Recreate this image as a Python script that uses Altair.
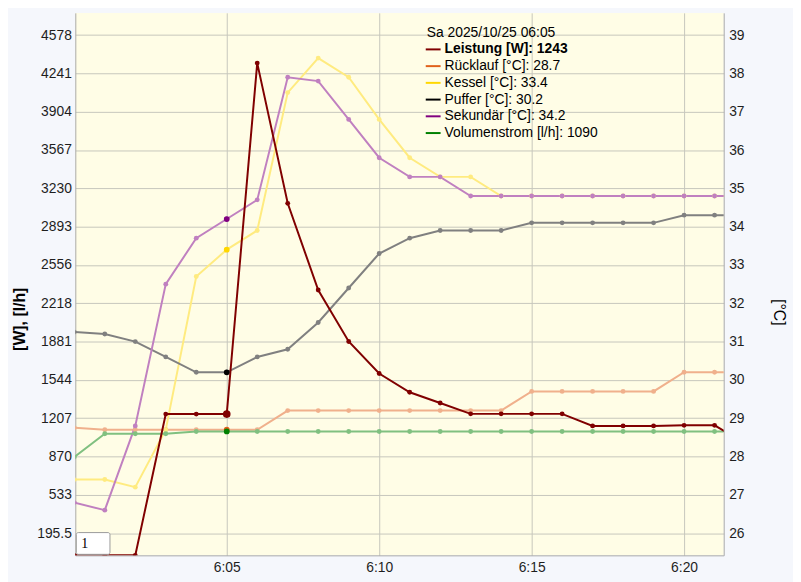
import altair as alt
import pandas as pd

# ---------------- data ----------------
date = "2025-10-25"
times = ["06:00", "06:01", "06:02", "06:03", "06:04", "06:05", "06:06", "06:07",
         "06:08", "06:09", "06:10", "06:11", "06:12", "06:13", "06:14", "06:15",
         "06:16", "06:17", "06:18", "06:19", "06:20", "06:21", "06:22"]

leistung = [0, 0, 0, 1243, 1243, 1243, 4332, 3098, 2335, 1882, 1600, 1435, 1341,
            1245, 1245, 1245, 1245, 1139, 1139, 1139, 1144, 1144, 985]
ruecklauf = [28.75, 28.7, 28.7, 28.7, 28.7, 28.7, 28.7, 29.2, 29.2, 29.2, 29.2, 29.2,
             29.2, 29.2, 29.2, 29.7, 29.7, 29.7, 29.7, 29.7, 30.2, 30.2, 30.2]
kessel = [27.4, 27.4, 27.2, 28.7, 32.7, 33.4, 33.9, 37.5, 38.4, 37.9, 36.8, 35.8,
          35.3, 35.3, 34.8, 34.8, 34.8, 34.8, 34.8, 34.8, 34.8, 34.8, 34.8]
puffer = [31.25, 31.2, 31.0, 30.6, 30.2, 30.2, 30.6, 30.8, 31.5, 32.4, 33.3, 33.7,
          33.9, 33.9, 33.9, 34.1, 34.1, 34.1, 34.1, 34.1, 34.3, 34.3, 34.3]
sekundaer = [26.8, 26.6, 28.8, 32.5, 33.7, 34.2, 34.7, 37.9, 37.8, 36.8, 35.8, 35.3,
             35.3, 34.8, 34.8, 34.8, 34.8, 34.8, 34.8, 34.8, 34.8, 34.8, 34.8]
volumenstrom = [865, 1070, 1070, 1070, 1090, 1090, 1090, 1090, 1090, 1090, 1090, 1090,
                1090, 1090, 1090, 1090, 1090, 1090, 1090, 1090, 1090, 1090, 1090]

series_names = ["Leistung [W]", "Rücklauf [°C]", "Kessel [°C]", "Puffer [°C]",
                "Sekundär [°C]", "Volumenstrom [l/h]"]
series_values = [leistung, ruecklauf, kessel, puffer, sekundaer, volumenstrom]
series_axis = ["W", "T", "T", "T", "T", "W"]
series_colors = ["#800000", "#e0601a", "#ffd700", "#000000", "#800080", "#008000"]

w_ticks = [195.5, 533, 870, 1207, 1544, 1881, 2218, 2556, 2893, 3230, 3567, 3904, 4241, 4578]
t_ticks = [26, 27, 28, 29, 30, 31, 32, 33, 34, 35, 36, 37, 38, 39]
x_ticks = ["06:05", "06:10", "06:15", "06:20"]
x_domain = ["06:00:02", "06:21:18"]
w_domain = [0, 4773.9]
t_domain = [25.421, 39.581]

legend_title = "Sa 2025/10/25 06:05"
highlight_time = "06:05"
roller_text = "1"

# ---------------- styles ----------------
FONT = "Liberation Sans"
PLOT_BG = "#fffde6"
PAGE_BG = "#f5f7fc"
GRID = "#c6c6bc"
DOMAIN = "#a9a9a9"
LABEL = "#1e1e1e"


def fade(c, a=0.5):
    r, g, b = int(c[1:3], 16), int(c[3:5], 16), int(c[5:7], 16)
    return "#%02x%02x%02x" % (round(r * a + 255 * (1 - a)),
                              round(g * a + 255 * (1 - a)),
                              round(b * a + 255 * (1 - a)))


faded_colors = [fade(c) for c in series_colors]


def dt(hhmmss):
    parts = [int(p) for p in hhmmss.split(":")]
    while len(parts) < 3:
        parts.append(0)
    return alt.DateTime(year=2025, month=10, date=25, hours=parts[0],
                        minutes=parts[1], seconds=parts[2])


# long table
rows = []
for name, vals, ax in zip(series_names, series_values, series_axis):
    for t, v in zip(times, vals):
        rows.append({"time": f"{date}T{t}:00", "hm": t, "series": name,
                     "value": v, "axis": ax})
df = pd.DataFrame(rows)

hi_idx = times.index(highlight_time)
legend_labels = []
for name, vals, ax in zip(series_names, series_values, series_axis):
    v = vals[hi_idx]
    legend_labels.append(f"{name}: {int(round(v))}" if ax == "W" else f"{name}: {v:.1f}")
legend_df = pd.DataFrame({"row": list(range(1, len(series_names) + 1)),
                          "label": legend_labels, "series": series_names})
title_df = pd.DataFrame({"row": [0], "label": [legend_title]})
roller_df = pd.DataFrame({"t": [roller_text]})

# ---------------- scales / encodings ----------------
x_enc = alt.X(
    "time:T",
    scale=alt.Scale(domain=[dt(x_domain[0]), dt(x_domain[1])]),
    axis=alt.Axis(values=[dt(t) for t in x_ticks], format="%-H:%M", grid=True,
                  gridColor=GRID, gridWidth=1, ticks=False, domainColor=DOMAIN,
                  labelFontSize=14, labelFont=FONT, labelColor=LABEL,
                  labelPadding=5, title=None),
)
w_scale = alt.Scale(domain=w_domain, nice=False, zero=False)
t_scale = alt.Scale(domain=t_domain, nice=False, zero=False)
faded_scale = alt.Scale(domain=series_names, range=faded_colors)
full_scale = alt.Scale(domain=series_names, range=series_colors)

w_axis = alt.Axis(orient="left", values=w_ticks, labelExpr="'' + datum.value", grid=True,
                  gridColor=GRID, gridWidth=1, ticks=False, domainColor=DOMAIN,
                  labelFontSize=14, labelFont=FONT, labelColor=LABEL, labelPadding=4,
                  title="[W], [l/h]", titleFont=FONT, titleFontSize=16,
                  titleFontWeight="bold", titleColor="#000000", titleAngle=270,
                  titleBaseline="middle", titleX=-56, titleY=309)
t_axis = alt.Axis(orient="right", values=t_ticks, format="d", grid=False,
                  ticks=False, domainColor=DOMAIN, labelFontSize=14, labelFont=FONT,
                  labelColor=LABEL, labelPadding=5, title="[°C]", titleFont=FONT,
                  titleFontSize=16, titleFontWeight="normal", titleColor="#000000",
                  titleAngle=90, titleBaseline="middle", titleX=55, titleY=302)

temps = alt.Chart(df).transform_filter("datum.axis == 'T'")
wvol = alt.Chart(df).transform_filter("datum.series == 'Volumenstrom [l/h]'")
wlei = alt.Chart(df).transform_filter("datum.series == 'Leistung [W]'")

PT = 24

t_lines = temps.mark_line(strokeWidth=2, clip=True).encode(
    x=x_enc, y=alt.Y("value:Q", scale=t_scale, axis=t_axis),
    color=alt.Color("series:N", scale=faded_scale, legend=None))
t_points = temps.mark_circle(size=PT, opacity=1, clip=True).encode(
    x=x_enc, y=alt.Y("value:Q", scale=t_scale, axis=None),
    color=alt.Color("series:N", scale=faded_scale, legend=None))

v_line = wvol.mark_line(strokeWidth=2, clip=True).encode(
    x=x_enc, y=alt.Y("value:Q", scale=w_scale, axis=w_axis),
    color=alt.Color("series:N", scale=faded_scale, legend=None))
v_points = wvol.mark_circle(size=PT, opacity=1, clip=True).encode(
    x=x_enc, y=alt.Y("value:Q", scale=w_scale, axis=None),
    color=alt.Color("series:N", scale=faded_scale, legend=None))

l_line = wlei.mark_line(strokeWidth=2, clip=True).encode(
    x=x_enc, y=alt.Y("value:Q", scale=w_scale, axis=None),
    color=alt.Color("series:N", scale=full_scale, legend=None))
l_points = wlei.mark_circle(size=PT, opacity=1, clip=True).encode(
    x=x_enc, y=alt.Y("value:Q", scale=w_scale, axis=None),
    color=alt.Color("series:N", scale=full_scale, legend=None))

hl_t = temps.transform_filter(f"datum.hm == '{highlight_time}'").mark_circle(
    size=34, opacity=1, clip=True).encode(
    x=x_enc, y=alt.Y("value:Q", scale=t_scale, axis=None),
    color=alt.Color("series:N", scale=full_scale, legend=None))
hl_v = wvol.transform_filter(f"datum.hm == '{highlight_time}'").mark_circle(
    size=34, opacity=1, clip=True).encode(
    x=x_enc, y=alt.Y("value:Q", scale=w_scale, axis=None),
    color=alt.Color("series:N", scale=full_scale, legend=None))
hl_l = wlei.transform_filter(f"datum.hm == '{highlight_time}'").mark_circle(
    size=60, opacity=1, clip=True).encode(
    x=x_enc, y=alt.Y("value:Q", scale=w_scale, axis=None),
    color=alt.Color("series:N", scale=full_scale, legend=None))

# ---------------- legend (drawn inside the plot) ----------------
row_scale = alt.Scale(domain=[0, 6], range=[20, 121.4])
leg_rules = alt.Chart(legend_df).mark_rule(strokeWidth=2).encode(
    x=alt.value(354), x2=alt.value(369),
    y=alt.Y("row:Q", scale=row_scale, axis=None),
    color=alt.Color("series:N", scale=full_scale, legend=None))
leg_text = alt.Chart(legend_df).transform_filter("datum.row > 1").mark_text(
    align="left", baseline="middle", font=FONT, fontSize=14, color="#000000").encode(
    x=alt.value(373), y=alt.Y("row:Q", scale=row_scale, axis=None), text="label:N")
leg_bold = alt.Chart(legend_df).transform_filter("datum.row == 1").mark_text(
    align="left", baseline="middle", font=FONT, fontSize=14, fontWeight="bold",
    color="#000000").encode(
    x=alt.value(373), y=alt.Y("row:Q", scale=row_scale, axis=None), text="label:N")
leg_title = alt.Chart(title_df).mark_text(
    align="left", baseline="middle", font=FONT, fontSize=14, color="#000000").encode(
    x=alt.value(355), y=alt.Y("row:Q", scale=row_scale, axis=None), text="label:N")

# ---------------- roll-period box ----------------
box = alt.Chart(roller_df).mark_rect(fill="#ffffff", stroke="#9a9a9a", strokeWidth=1,
                                     cornerRadius=2).encode(
    x=alt.value(1), x2=alt.value(35), y=alt.value(525), y2=alt.value(547))
box_text = alt.Chart(roller_df).mark_text(
    align="left", baseline="middle", font="Liberation Serif", fontSize=14,
    color="#000000").encode(x=alt.value(6), y=alt.value(537), text="t:N")

chart = alt.layer(
    t_lines, t_points, v_line, v_points, l_line, l_points, hl_t, hl_v, hl_l,
    leg_rules, leg_title, leg_text, leg_bold, box, box_text
).resolve_scale(
    y="independent", color="independent"
).properties(
    width=655, height=548,
    padding={"left": 68, "top": 2, "right": 70, "bottom": 24},
    autosize=alt.AutoSizeParams(type="none"),
    background=PAGE_BG,
).configure_view(fill=PLOT_BG, stroke=None)

chart.save("out.html", embed_options={"renderer": "svg", "actions": False})
